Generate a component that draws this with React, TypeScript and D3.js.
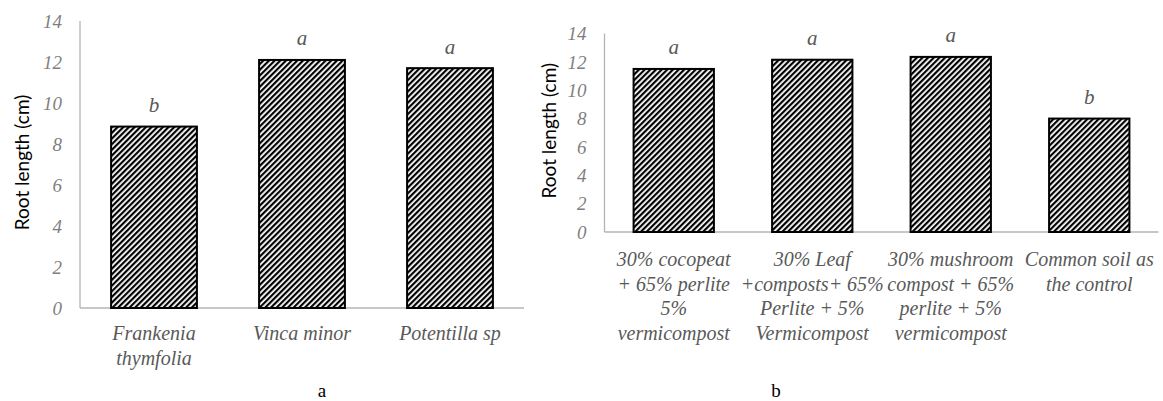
import React from "react";
import * as d3 from "d3";

// Panel a: root length by species
const speciesLabels: string[][] = [["Frankenia", "thymfolia"], ["Vinca minor"], ["Potentilla sp"]];
const speciesValues: number[] = [8.85, 12.1, 11.7];
const speciesLetters: string[] = ["b", "a", "a"];

// Panel b: root length by growing medium
const mediumLabels: string[][] = [
  ["30% cocopeat", "+ 65% perlite", "5%", "vermicompost"],
  ["30% Leaf", "+composts+ 65%", "Perlite + 5%", "Vermicompost"],
  ["30% mushroom", "compost + 65%", "perlite + 5%", "vermicompost"],
  ["Common soil as", "the control"],
];
const mediumValues: number[] = [11.5, 12.15, 12.35, 8.0];
const mediumLetters: string[] = ["a", "a", "a", "b"];

const yTicks: number[] = [0, 2, 4, 6, 8, 10, 12, 14];

const SERIF = "'Liberation Serif', 'Times New Roman', serif";
const SANS = "Lato, 'Open Sans', sans-serif";
const GREY_TEXT = "#595959";
const AXIS = "#b4b4b4";

type PanelProps = {
  id: string;
  labels: string[][];
  values: number[];
  letters: string[];
  x0: number;
  x1: number;
  yTop: number;
  yBase: number;
  titleX: number;
  labelY: number;
  caption: string;
  captionX: number;
};

function Panel(p: PanelProps) {
  const names = p.labels.map((l) => l.join(" "));
  const x = d3.scaleBand<string>().domain(names).range([p.x0, p.x1]).paddingInner(0.42).paddingOuter(0.21);
  const y = d3.scaleLinear().domain([0, 14]).range([p.yBase, p.yTop]);
  const cx = (n: string) => (x(n) as number) + x.bandwidth() / 2;
  const lineH = 24.5;
  return (
    <g>
      {/* axis lines */}
      <line x1={p.x0} x2={p.x0} y1={y(14)} y2={y(0)} stroke={AXIS} strokeWidth={1.3} />
      <line x1={p.x0} x2={p.x1} y1={y(0)} y2={y(0)} stroke={AXIS} strokeWidth={1.3} />
      {/* tick labels */}
      {yTicks.map((t) => (
        <text
          key={t}
          x={p.x0 - 18}
          y={y(t)}
          dy="0.35em"
          textAnchor="end"
          fontFamily={SERIF}
          fontStyle="italic"
          fontSize={19}
          fill="#7f7f7f"
        >
          {t}
        </text>
      ))}
      {/* bars */}
      {names.map((n, i) => (
        <rect
          key={n}
          x={x(n)}
          y={y(p.values[i])}
          width={x.bandwidth()}
          height={y(0) - y(p.values[i])}
          fill={`url(#${p.id})`}
          stroke="#000"
          strokeWidth={2}
        />
      ))}
      {/* significance letters */}
      {names.map((n, i) => (
        <text
          key={n + "-l"}
          x={cx(n)}
          y={y(p.values[i]) - 22}
          dy="0.35em"
          textAnchor="middle"
          fontFamily={SERIF}
          fontStyle="italic"
          fontSize={21}
          fill={GREY_TEXT}
        >
          {p.letters[i]}
        </text>
      ))}
      {/* category labels */}
      {p.labels.map((lines, i) => (
        <text
          key={names[i] + "-c"}
          x={cx(names[i])}
          y={p.labelY}
          textAnchor="middle"
          fontFamily={SERIF}
          fontStyle="italic"
          fontSize={20}
          fill={GREY_TEXT}
        >
          {lines.map((ln, j) => (
            <tspan key={j} x={cx(names[i])} y={p.labelY + j * lineH} dy="0.35em">
              {ln}
            </tspan>
          ))}
        </text>
      ))}
      {/* axis title */}
      <text
        transform={`translate(${p.titleX},${(y(0) + y(14)) / 2 - 2}) rotate(-90)`}
        textAnchor="middle"
        dy="0.35em"
        fontFamily={SANS}
        fontSize={19}
        fill="#000"
      >
        Root length (cm)
      </text>
      {/* panel caption */}
      <text x={p.captionX} y={390} dy="0.35em" textAnchor="middle" fontFamily={SERIF} fontSize={19} fill="#000">
        {p.caption}
      </text>
    </g>
  );
}

export default function App() {
  return (
    <svg width={1163} height={401} style={{ position: "absolute", left: 0, top: 0, background: "#fff" }}>
      <defs>
        {["hatchA", "hatchB"].map((id) => (
          <pattern key={id} id={id} patternUnits="userSpaceOnUse" width={4} height={4} patternTransform="rotate(45)">
            <rect x={0} y={0} width={4} height={4} fill="#fff" />
            <rect x={0} y={0} width={2.2} height={4} fill="#000" />
          </pattern>
        ))}
      </defs>
      <rect x={0} y={0} width={1163} height={401} fill="#fff" />
      <Panel
        id="hatchA"
        labels={speciesLabels}
        values={speciesValues}
        letters={speciesLetters}
        x0={80}
        x1={524}
        yTop={21}
        yBase={308}
        titleX={22}
        labelY={333}
        caption="a"
        captionX={322}
      />
      <Panel
        id="hatchB"
        labels={mediumLabels}
        values={mediumValues}
        letters={mediumLetters}
        x0={604.5}
        x1={1158.5}
        yTop={33.5}
        yBase={232}
        titleX={549}
        labelY={259}
        caption="b"
        captionX={776}
      />
    </svg>
  );
}
